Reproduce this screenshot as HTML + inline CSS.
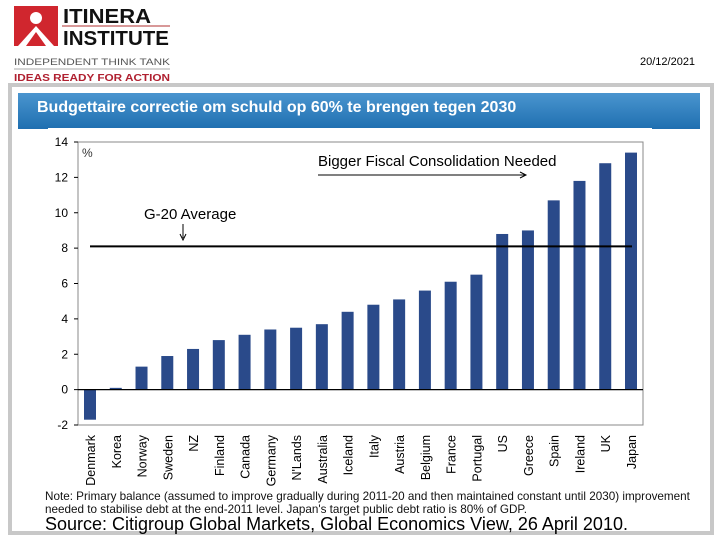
<!DOCTYPE html>
<html><head><meta charset="utf-8"><style>
body{margin:0;width:720px;height:540px;background:#fff;position:relative;overflow:hidden;font-family:"Liberation Sans",sans-serif}
.abs{position:absolute}
</style></head><body>
<div class="abs" style="left:12px;top:4px;width:160px;height:80px">
<svg width="160" height="80">
<rect x="2" y="2" width="44" height="40" fill="#d0262e"/>
<circle cx="24" cy="14" r="6" fill="#fff"/>
<path d="M6 42 L24 22 L42 42 Z" fill="#fff"/>
<path d="M14 42 L24 28 L34 42 Z" fill="#d0262e"/>
<text x="51" y="19" font-size="20" font-weight="bold" textLength="88" lengthAdjust="spacingAndGlyphs" fill="#111">ITINERA</text>
<line x1="50" y1="22" x2="158" y2="22" stroke="#b03030" stroke-width="1"/>
<text x="51" y="41" font-size="20" font-weight="bold" textLength="106" lengthAdjust="spacingAndGlyphs" fill="#111">INSTITUTE</text>
<text x="2" y="61" font-size="9" textLength="156" lengthAdjust="spacingAndGlyphs" fill="#555">INDEPENDENT THINK TANK</text>
<line x1="2" y1="65" x2="158" y2="65" stroke="#aaa"/>
<text x="2" y="77" font-size="10" font-weight="bold" textLength="156" lengthAdjust="spacingAndGlyphs" fill="#b02030">IDEAS READY FOR ACTION</text>
</svg></div>
<div class="abs" style="left:640px;top:56px;font-size:11px">20/12/2021</div>
<div class="abs" style="left:8px;top:83px;width:698px;height:444px;border:4px solid #c8c8c8"></div>
<div class="abs" style="left:18px;top:93px;width:682px;height:36px;background:linear-gradient(#4a95cf,#1f6fb0)"></div>
<div class="abs" style="left:37px;top:99px;color:#fff;font-weight:bold;font-size:16px">Budgettaire correctie om schuld op 60% te brengen tegen 2030</div>
<svg class="abs" style="left:0;top:0" width="720" height="540" id="chart">
<rect x="48" y="128" width="604" height="362" fill="#fff"/>
</svg>
<div class="abs" style="left:45px;top:490px;font-size:11.7px;line-height:13px;color:#111;width:675px;white-space:nowrap">Note: Primary balance (assumed to improve gradually during 2011-20 and then maintained constant until 2030) improvement<br>needed to stabilise debt at the end-2011 level. Japan's target public debt ratio is 80% of GDP.</div>
<div class="abs" style="left:45px;top:514px;font-size:18px;color:#000;white-space:nowrap">Source: Citigroup Global Markets, Global Economics View, 26 April 2010.</div>
<script>
const categories=["Denmark","Korea","Norway","Sweden","NZ","Finland","Canada","Germany","N'Lands","Australia","Iceland","Italy","Austria","Belgium","France","Portugal","US","Greece","Spain","Ireland","UK","Japan"];
const values=[-1.7,0.1,1.3,1.9,2.3,2.8,3.1,3.4,3.5,3.7,4.4,4.8,5.1,5.6,6.1,6.5,8.8,9.0,10.7,11.8,12.8,13.4];
const yTicks=[-2,0,2,4,6,8,10,12,14];
const average=8.1;
const NS='http://www.w3.org/2000/svg';
const svg=document.getElementById('chart');
const L=78,R=643,T=142,B=425;
const y=v=>B-(v+2)/16*(B-T);
const x=i=>90+i*(631-90)/(categories.length-1);
function mk(t,a){const e=document.createElementNS(NS,t);for(const k in a)e.setAttribute(k,a[k]);svg.appendChild(e);return e;}
let e=mk('rect',{x:L,y:T,width:R-L,height:B-T,fill:'none',stroke:'#888'});


yTicks.forEach(t=>{
 let l=mk('line',{x1:L-4,x2:L,y1:y(t),y2:y(t),stroke:'#000'});
 
 
 let tx=mk('text',{x:L-10,y:y(t)+4,'text-anchor':'end','font-size':'12'});
 tx.textContent=t;
 
 
});
let pc=mk('text',{x:82,y:157,'font-size':'12',fill:'#333'});pc.textContent='%';


values.forEach((v,i)=>{
 const y0=y(0),y1=y(v);
 let b=mk('rect',{x:x(i)-6,y:Math.min(y0,y1),width:12,height:Math.abs(y1-y0),fill:'#2a4a8a'});
 
 
 let t=mk('text',{transform:`translate(${x(i)+5},${B+10}) rotate(-90)`,'text-anchor':'end','font-size':'12.5'});
 t.textContent=categories[i];
 
 
});
let z=mk('line',{x1:L,x2:R,y1:y(0),y2:y(0),stroke:'#000','stroke-width':1.2});


let a=mk('line',{x1:90,x2:632,y1:y(average),y2:y(average),stroke:'#000','stroke-width':2});


let at=mk('text',{x:144,y:219,'font-size':'15'});at.textContent='G-20 Average';


let ar=mk('path',{d:'M183 224 L183 238 M180 234 L183 240 L186 234',stroke:'#000',fill:'none'});


let bt=mk('text',{x:318,y:166,'font-size':'15'});bt.textContent='Bigger Fiscal Consolidation Needed';


let ba=mk('path',{d:'M318 175 L525 175 M520 172 L526 175 L520 178',stroke:'#000',fill:'none'});


</script>
</body></html>
